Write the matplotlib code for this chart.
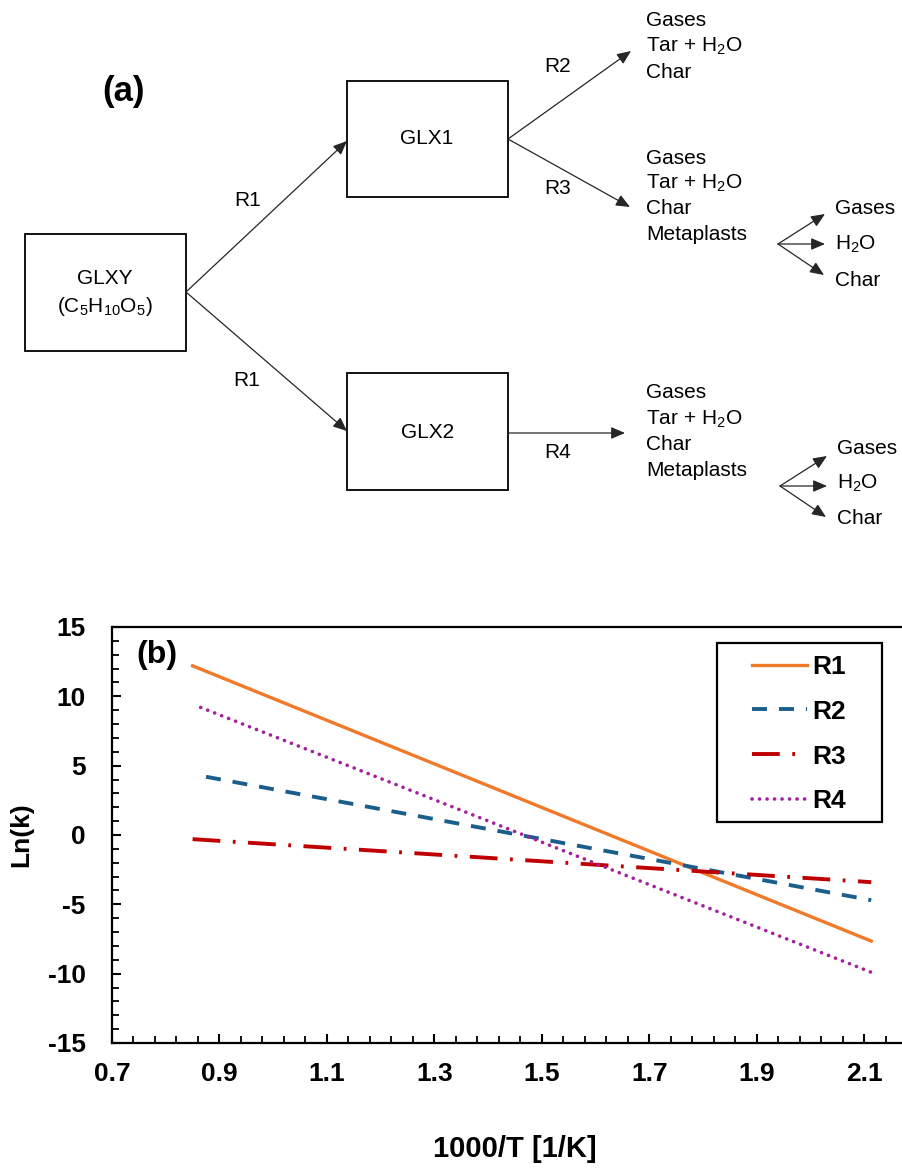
import matplotlib
matplotlib.use("Agg")
import matplotlib.pyplot as plt
from matplotlib.patches import Rectangle
import numpy as np

plt.rcParams['font.family'] = ['Liberation Sans', 'DejaVu Sans']
plt.rcParams['mathtext.default'] = 'regular'
plt.rcParams['lines.scale_dashes'] = False
plt.rcParams['axes.unicode_minus'] = False

# Arrhenius lines, Ln(k) against 1000/T
series_names = ['R1', 'R2', 'R3', 'R4']
x_r1 = [0.85, 2.113]
ln_r1 = [12.2, -7.65]
x_r2 = [0.875, 2.113]
ln_r2 = [4.2, -4.7]
x_r3 = [0.85, 2.113]
ln_r3 = [-0.3, -3.4]
x_r4 = [0.865, 2.113]
ln_r4 = [9.2, -9.9]

x_ticks = [0.7, 0.9, 1.1, 1.3, 1.5, 1.7, 1.9, 2.1]
y_ticks = [-15, -10, -5, 0, 5, 10, 15]

# reaction scheme texts
products_r2 = ['Gases', 'Tar + H$_2$O', 'Char']
products_r3 = ['Gases', 'Tar + H$_2$O', 'Char', 'Metaplasts']
products_r4 = ['Gases', 'Tar + H$_2$O', 'Char', 'Metaplasts']
metaplast_products = ['Gases', 'H$_2$O', 'Char']

W, H = 903, 1169
fig = plt.figure(figsize=(W / 100, H / 100), dpi=100)

# ---------- (a) scheme, drawn in pixel coordinates ----------
sch = fig.add_axes([0, 0, 1, 1])
sch.set_xlim(0, W)
sch.set_ylim(H, 0)
sch.axis('off')

fs = 15
box_kw = dict(fill=False, lw=1.3, ec='black')
sch.add_patch(Rectangle((25, 234), 161, 117, **box_kw))
sch.add_patch(Rectangle((347, 81), 161, 116, **box_kw))
sch.add_patch(Rectangle((347, 373), 161, 117, **box_kw))

sch.text(105, 279, 'GLXY', ha='center', va='center', fontsize=fs)
sch.text(105, 307, '(C$_5$H$_{10}$O$_5$)', ha='center', va='center', fontsize=fs)
sch.text(427, 139, 'GLX1', ha='center', va='center', fontsize=fs)
sch.text(428, 433, 'GLX2', ha='center', va='center', fontsize=fs)
sch.text(124, 92, '(a)', ha='center', va='center', fontsize=25, fontweight='bold')


def arrow(p0, p1):
    sch.annotate('', xy=p1, xytext=p0,
                 arrowprops=dict(arrowstyle='-|>,head_length=0.7,head_width=0.3',
                                 color='#262626', lw=0.9, shrinkA=0, shrinkB=0,
                                 mutation_scale=12))


arrow((186, 292), (347, 141))
arrow((186, 292), (347, 431))
arrow((508, 139), (631, 51))
arrow((508, 139), (630, 207))
arrow((508, 433), (625, 433))

# metaplast decomposition branches
for ox, oy in [(778, 244), (780, 486)]:
    arrow((ox, oy), (ox + 47, oy - 30))
    arrow((ox, oy), (ox + 47, oy))
    arrow((ox, oy), (ox + 46, oy + 31))

sch.text(248, 200, 'R1', ha='center', va='center', fontsize=fs)
sch.text(247, 380, 'R1', ha='center', va='center', fontsize=fs)
sch.text(558, 67, 'R2', ha='center', va='center', fontsize=fs)
sch.text(558, 188, 'R3', ha='center', va='center', fontsize=fs)
sch.text(558, 453, 'R4', ha='center', va='center', fontsize=fs)

for i, s in enumerate(products_r2):
    sch.text(646, 21 + 25.5 * i, s, ha='left', va='center', fontsize=fs)
for i, s in enumerate(products_r3):
    sch.text(646, 158 + 25.5 * i, s, ha='left', va='center', fontsize=fs)
for i, s in enumerate(products_r4):
    sch.text(646, 393 + 26 * i, s, ha='left', va='center', fontsize=fs)
for i, s in enumerate(metaplast_products):
    sch.text(835, 208 + 36 * i, s, ha='left', va='center', fontsize=fs)
    sch.text(837, 448 + 35.5 * i, s, ha='left', va='center', fontsize=fs)

# ---------- (b) Arrhenius plot ----------
ax = fig.add_axes([112 / W, 126 / H, 806 / W, 416 / H])
ax.set_xlim(0.7, 2.2)
ax.set_ylim(-15, 15)

ax.plot(x_r1, ln_r1, color='#F07A2A', lw=2.4, label=series_names[0])
ax.plot(x_r2, ln_r2, color='#1B5E8C', lw=2.8, dashes=(10.8, 8.6), label=series_names[1])
ax.plot(x_r3, ln_r3, color='#C00000', lw=2.8, dashes=(20, 9, 2, 9), label=series_names[2])
ax.plot(x_r4, ln_r4, color='#A5209D', lw=2.6, dashes=(0.1, 5.3),
        dash_capstyle='round', label=series_names[3])

ax.set_xticks(x_ticks)
ax.set_xticklabels([f'{v:.1f}' for v in x_ticks])
ax.set_yticks(y_ticks)
ax.set_xticks(np.arange(0.7, 2.21, 0.04), minor=True)
ax.set_yticks(np.arange(-15, 15.1, 1), minor=True)
ax.tick_params(which='major', direction='in', length=6.5, width=1.5,
               labelsize=19, top=False, right=False)
ax.tick_params(which='minor', direction='in', length=5, width=1.3, top=False, right=False)
ax.tick_params(axis='y', which='major', pad=19)
ax.tick_params(axis='x', which='major', pad=14)
for lab in ax.get_xticklabels() + ax.get_yticklabels():
    lab.set_fontweight('bold')
for sp in ax.spines.values():
    sp.set_linewidth(1.6)

ax.set_ylabel('Ln(k)', fontsize=19, fontweight='bold')
ax.yaxis.set_label_coords(-0.098, 0.5)
ax.set_xlabel('1000/T [1/K]', fontsize=21, fontweight='bold')
ax.xaxis.set_label_coords(0.5, -0.22)

ax.text(0.746, 13.0, '(b)', ha='left', va='center', fontsize=23, fontweight='bold')

leg = ax.legend(loc='upper left', bbox_to_anchor=(0.794, 0.933), frameon=False,
                borderpad=0, borderaxespad=0, handlelength=2.1, handletextpad=0.2,
                labelspacing=0.79, prop=dict(size=19, weight='bold'))
ax.add_patch(Rectangle((0.7506, 0.531), 0.2047, 0.4305, transform=ax.transAxes,
                       fill=False, lw=1.6, ec='black', zorder=5))

fig.savefig('out.png', dpi=100)
